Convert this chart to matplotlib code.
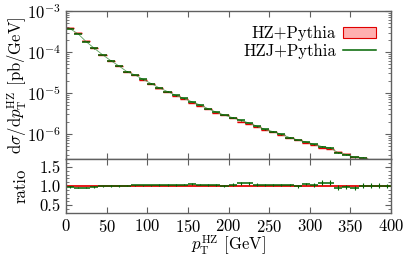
import matplotlib
matplotlib.use("Agg")
import matplotlib.pyplot as plt
import numpy as np
from matplotlib.patches import Patch
from matplotlib.lines import Line2D
from matplotlib.ticker import LogLocator, MultipleLocator, FormatStrFormatter, NullFormatter

plt.rcParams["font.family"] = "serif"
plt.rcParams["font.serif"] = ["cmr10"]
plt.rcParams["mathtext.fontset"] = "cm"
plt.rcParams["axes.formatter.use_mathtext"] = True

# bin edges in pT (GeV)
edges = np.arange(0, 410, 10)

# HZ+Pythia dsigma/dpT [pb/GeV]
hz = [3.8e-4, 2.9e-4, 1.86e-4, 1.27e-4, 8.7e-5, 6.2e-5, 4.6e-5, 3.3e-5, 2.7e-5, 2.1e-5,
      1.66e-5, 1.29e-5, 1.05e-5, 8.5e-6, 7.1e-6, 5.8e-6, 4.9e-6, 4.0e-6, 3.3e-6, 2.88e-6,
      2.4e-6, 2.0e-6, 1.74e-6, 1.48e-6, 1.25e-6, 1.11e-6, 9.5e-7, 8.0e-7, 7.2e-7, 6.0e-7,
      5.4e-7, 4.5e-7, 4.2e-7, 3.6e-7, 3.2e-7, 2.8e-7, 2.6e-7, 2.3e-7, 2.1e-7, 1.9e-7]

# HZJ+Pythia / HZ+Pythia
ratio = [0.98, 0.96, 0.96, 0.97, 0.99, 1.00, 1.00, 1.01, 1.02, 1.02,
         1.02, 1.03, 1.03, 1.03, 1.04, 1.05, 1.04, 1.03, 1.03, 1.00,
         1.04, 1.07, 1.07, 1.04, 1.03, 1.02, 1.03, 1.02, 0.99, 1.06,
         1.03, 1.09, 1.09, 0.96, 0.98, 0.95, 1.01, 1.01, 1.01, 1.00]

# relative stat. error of HZJ
relerr = [0.01] * 20 + [0.015] * 10 + [0.03] * 10

hz = np.array(hz)
ratio = np.array(ratio)
relerr = np.array(relerr)
hzj = hz * ratio
lo, hi = edges[:-1], edges[1:]
centers = 0.5 * (lo + hi)

red = "#e00000"
lightred = "#ffb0b0"
green = "#006400"
lightgreen = "#5aa05a"
spine = "#606060"

fig = plt.figure(figsize=(4.07, 2.59), dpi=100)
ax = fig.add_axes([0.162, 0.385, 0.799, 0.572])
axr = fig.add_axes([0.162, 0.178, 0.799, 0.207], sharex=ax)

# main panel
for a, b, v in zip(lo, hi, hz):
    ax.fill_between([a, b], v * 0.94, v * 1.06, color=lightred, lw=0)
ax.hlines(hz, lo, hi, color=red, lw=1.0)
ax.plot(centers, hzj, color=lightgreen, lw=0.6)
ax.hlines(hzj, lo, hi, color=green, lw=1.1)
ax.vlines(centers, hzj * (1 - relerr), hzj * (1 + relerr), color=green, lw=0.8)

ax.set_yscale("log")
ax.set_xlim(0, 400)
ax.set_ylim(2.4e-7, 1e-3)
ax.yaxis.set_major_locator(LogLocator(base=10, numticks=10))
ax.yaxis.set_minor_locator(LogLocator(base=10, subs=np.arange(2, 10), numticks=10))
ax.yaxis.set_minor_formatter(NullFormatter())
ax.tick_params(labelbottom=False)
ax.set_ylabel(r"$\mathrm{d}\sigma/\mathrm{d}p_\mathrm{T}^\mathrm{HZ}$ [pb/GeV]", fontsize=12)

handles = [Patch(facecolor=lightred, edgecolor=red, lw=0.8),
           Line2D([], [], color=green, lw=1.1)]
ax.legend(handles, ["HZ+Pythia", "HZJ+Pythia"], loc="upper right", frameon=False,
          markerfirst=False, fontsize=12, handlelength=2.0, handletextpad=0.4,
          labelspacing=0.15, borderaxespad=0.5)

# ratio panel
axr.fill_between([0, 400], 0.98, 1.02, color=lightred, lw=0)
axr.axhline(1.0, color=red, lw=1.2)
axr.hlines(ratio, lo, hi, color=green, lw=1.1)
axr.vlines(centers, ratio * (1 - 2 * relerr), ratio * (1 + 2 * relerr), color=green, lw=0.8)
axr.set_ylim(0.3, 1.7)
axr.yaxis.set_major_locator(MultipleLocator(0.5))
axr.yaxis.set_minor_locator(MultipleLocator(0.1))
axr.yaxis.set_major_formatter(FormatStrFormatter("%.1f"))
axr.xaxis.set_major_locator(MultipleLocator(50))
axr.set_ylabel("ratio", fontsize=12)
axr.set_xlabel(r"$p_\mathrm{T}^\mathrm{HZ}$ [GeV]", fontsize=12, labelpad=-1)

for a in (ax, axr):
    a.tick_params(which="both", direction="in", top=True, right=True,
                  labelsize=12, color=spine)
    a.tick_params(which="major", length=4)
    a.tick_params(which="minor", length=2)
    for s in a.spines.values():
        s.set_color(spine)
        s.set_linewidth(1.0)
    a.yaxis.set_label_coords(-0.115, 0.5)

fig.savefig("out.png", dpi=100)
